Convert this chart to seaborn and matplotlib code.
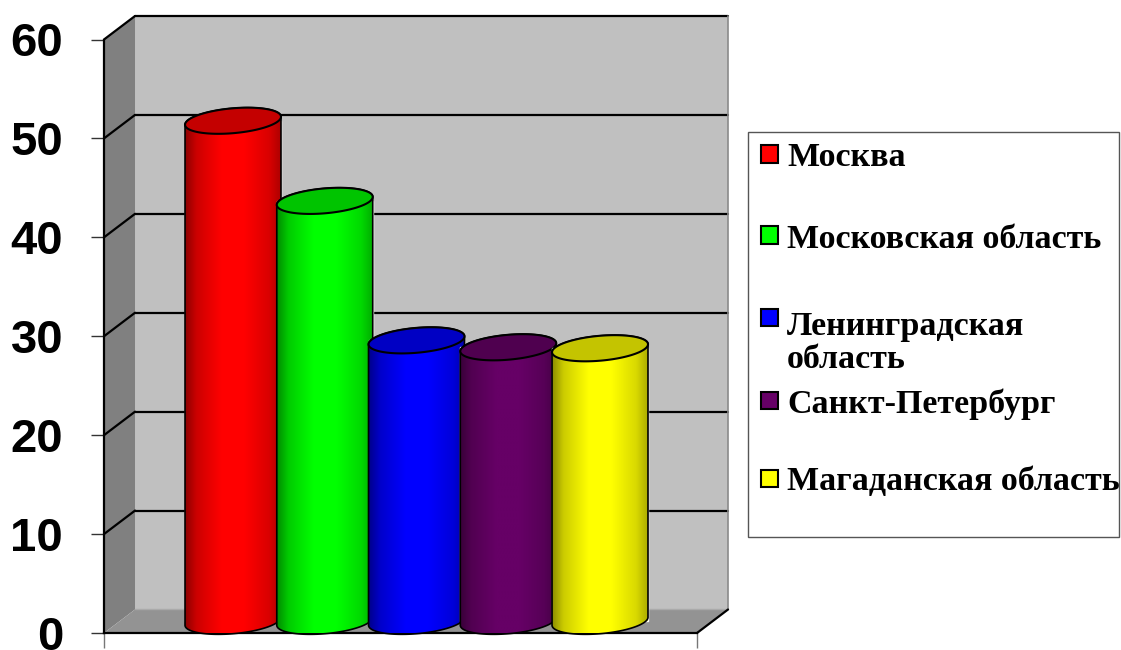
import numpy as np
import matplotlib
matplotlib.use("Agg")
import matplotlib.pyplot as plt
from matplotlib.patches import Polygon, Rectangle
from matplotlib.colors import to_rgb
import seaborn as sns

# data
regions = ["Москва", "Московская область", "Ленинградская область",
           "Санкт-Петербург", "Магаданская область"]
legend_labels = ["Москва", "Московская область", "Ленинградская\nобласть",
                 "Санкт-Петербург", "Магаданская область"]
values = [50.6, 42.5, 28.4, 27.7, 27.6]
colors = ["#FF0000", "#00FF00", "#0000FF", "#660066", "#FFFF00"]
y_ticks = [0, 10, 20, 30, 40, 50, 60]

sns.set_style("white")
plt.rcParams['font.family'] = ['Liberation Sans', 'DejaVu Sans']

W, H = 1121, 650
fig = plt.figure(figsize=(W / 100, H / 100), dpi=100)
ax = fig.add_axes([104 / W, 17 / H, 593 / W, 593.5 / H])
ax.patch.set_visible(False)

sns.barplot(x=regions, y=values, hue=regions, palette=colors, saturation=1,
            width=1.046, legend=False, ax=ax)
bars = list(ax.patches)

xl, xr = -1.237, 5.226
DX, DY = 0.338, 2.376   # depth of the 3d box in data units
EB = 1.26               # half height of the cylinder ellipses
K = 0.77                # tilt of the ellipses

# walls and floor
ax.add_patch(Polygon([(xl + DX, DY), (xr + DX, DY), (xr + DX, 60 + DY), (xl + DX, 60 + DY)],
                     fc='#C0C0C0', ec='none', zorder=0.5, clip_on=False))
ax.add_patch(Polygon([(xl, 0), (xl + DX, DY), (xl + DX, 60 + DY), (xl, 60)],
                     fc='#808080', ec='none', zorder=0.6, clip_on=False))
ax.add_patch(Polygon([(xl, 0), (xr, 0), (xr + DX, DY), (xl + DX, DY)],
                     fc='#939393', ec='none', zorder=0.6, clip_on=False))
for v in y_ticks[1:]:
    ax.plot([xl + DX, xr + DX], [v + DY, v + DY], color='black', lw=1.6, zorder=1, clip_on=False)
    ax.plot([xl, xl + DX], [v, v + DY], color='black', lw=1.6, zorder=1, clip_on=False)
ax.plot([xr + DX, xr + DX], [DY, 60 + DY], color='#8a8a8a', lw=1.2, zorder=1, clip_on=False)
ax.plot([xl + DX, xr + DX], [DY, DY], color='#aaaaaa', lw=1, zorder=1, clip_on=False)
ax.plot([xr, xr + DX], [0, DY], color='black', lw=1.6, zorder=1, clip_on=False)

# cylinders built on the seaborn bars
u = np.linspace(0, 1, 256)
shade = np.interp(u, [0, 0.12, 0.38, 0.62, 0.88, 1], [0.55, 0.8, 1.0, 1.0, 0.85, 0.68])
for i, (p, col) in enumerate(zip(bars, colors)):
    w = p.get_width()
    h = p.get_height()
    a = w / 2
    cx = p.get_x() + DX / 2 + a
    y0 = DY / 2
    y1 = DY / 2 + h
    z = 3 + i
    p.set_x(cx - a)
    p.set_y(y0)
    p.set_zorder(z)
    p.set_clip_on(False)

    t_low = np.linspace(np.pi, 2 * np.pi, 80)
    t_up = np.linspace(0, np.pi, 80)
    low = np.column_stack([cx + a * np.cos(t_low), y0 + EB * np.sin(t_low) + K * a * np.cos(t_low)])
    up = np.column_stack([cx + a * np.cos(t_up), y1 + EB * np.sin(t_up) + K * a * np.cos(t_up)])
    body = Polygon(np.vstack([low, up]), closed=True, fc='none', ec='black', lw=1.2,
                   zorder=z + 0.2, clip_on=False)
    ax.add_patch(body)

    rgb = np.array(to_rgb(col))
    img = rgb[None, None, :] * shade[None, :, None]
    im = ax.imshow(img, extent=[cx - a, cx + a, y0 - EB - K * a, y1 + EB + K * a],
                   aspect='auto', interpolation='bilinear', zorder=z + 0.1)
    im.set_clip_path(body)

    t = np.linspace(0, 2 * np.pi, 160)
    top = np.column_stack([cx + a * np.cos(t), y1 + EB * np.sin(t) + K * a * np.cos(t)])
    ax.add_patch(Polygon(top, closed=True, fc=rgb * 0.77, ec='black', lw=1.5,
                         zorder=z + 0.3, clip_on=False))

ax.set_xlim(xl, xr)
ax.set_ylim(0, 60)

# axes
for s in ['top', 'right']:
    ax.spines[s].set_visible(False)
for s in ['left', 'bottom']:
    ax.spines[s].set_color('black')
    ax.spines[s].set_linewidth(1.6)
    ax.spines[s].set_zorder(2)
ax.set_yticks(y_ticks)
ax.set_yticklabels([str(v) for v in y_ticks], fontsize=34, fontweight='bold')
ax.tick_params(axis='y', left=True, length=9.4, width=1, color='#333333', pad=20,
               labelcolor='black')
ax.set_xticks([xl, xr])
ax.set_xticklabels(['', ''])
ax.tick_params(axis='x', bottom=True, length=11, width=1, color='#777777')
ax.set_xlabel('')
ax.set_ylabel('')

# legend
def fx(x):
    return x / W

def fy(y):
    return 1 - y / H

fig.add_artist(Rectangle((fx(748), fy(537)), (1119 - 748) / W, (537 - 132) / H,
                         transform=fig.transFigure, fill=False, ec='#555555', lw=1))
marker_y = [154, 235, 317, 400, 478]
for lab, col, my in zip(legend_labels, colors, marker_y):
    fig.add_artist(Rectangle((fx(761), fy(my + 8.5)), 17 / W, 17 / H, transform=fig.transFigure,
                             fc=col, ec='black', lw=1.5))
    base = my + 12.5 + 38 * lab.count('\n')
    fig.text(fx(787), fy(base), lab, fontsize=24.5, fontweight='bold', color='black',
             family=['Liberation Serif', 'DejaVu Serif'], va='baseline', linespacing=1.05)

fig.savefig("out.png", dpi=100)
